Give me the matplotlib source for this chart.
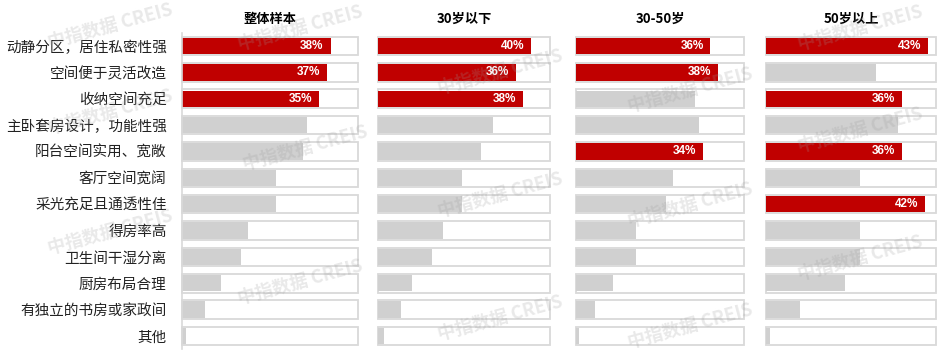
import matplotlib
matplotlib.use("Agg")
import matplotlib.pyplot as plt
import numpy as np

plt.rcParams['font.family'] = ['Noto Sans CJK SC', 'DejaVu Sans']

categories = ['动静分区，居住私密性强', '空间便于灵活改造', '收纳空间充足', '主卧套房设计，功能性强',
              '阳台空间实用、宽敞', '客厅空间宽阔', '采光充足且通透性佳', '得房率高',
              '卫生间干湿分离', '厨房布局合理', '有独立的书房或家政间', '其他']
groups = ['整体样本', '30岁以下', '30-50岁', '50岁以上']
overall = [38, 37, 35, 32, 31, 24, 24, 17, 15, 10, 6, 1]
under30 = [40, 36, 38, 30, 27, 22, 22, 17, 14, 9, 6, 1.5]
age30_50 = [36, 38, 32, 33, 34, 26, 24, 16, 16, 10, 5, 0.8]
over50 = [43, 29, 36, 35, 36, 25, 42, 25, 25, 21, 9, 1]
series = [overall, under30, age30_50, over50]

RED = '#c00000'
GREY = '#d0d0d0'
EDGE = '#d9d9d9'
BOX_MAX = 45

W, H = 946, 355
# panel left edge / width in pixels
panels = [(182, 176), (378, 172), (576, 168), (766, 170)]


def draw_panel(ax, vals, title, first):
    y = np.arange(len(categories))
    top3 = sorted(vals, reverse=True)[2]
    ax.barh(y, [BOX_MAX] * len(y), height=0.7, color='white', edgecolor=EDGE,
            linewidth=1.3, clip_on=False, zorder=1)
    colors = [RED if v >= top3 else GREY for v in vals]
    ax.barh(y, vals, height=0.62, color=colors, zorder=2)
    for yi, v, c in zip(y, vals, colors):
        if c == RED:
            ax.text(v - 1.8, yi, f'{v:.0f}%', color='white', fontsize=8.5,
                    fontweight='bold', ha='right', va='center',
                    family=['Liberation Sans', 'DejaVu Sans'], zorder=3)
    ax.set_xlim(0, BOX_MAX)
    ax.set_ylim(len(y) - 0.5, -0.5)
    ax.set_xticks([])
    for s in ['top', 'right', 'bottom']:
        ax.spines[s].set_visible(False)
    if first:
        ax.spines['left'].set_color(EDGE)
        ax.spines['left'].set_linewidth(1.2)
        ax.set_yticks(y)
        ax.set_yticklabels(categories, fontsize=10.5, color='#222222')
        ax.tick_params(axis='y', length=0, pad=11)
    else:
        ax.spines['left'].set_visible(False)
        ax.set_yticks([])
    ax.set_title(title, fontsize=9.5, fontweight='bold', pad=7)


def main():
    fig = plt.figure(figsize=(W / 100, H / 100), dpi=100)
    bottom = (H - 349.2) / H
    height = 316.4 / H
    for i, ((x0, w), vals, title) in enumerate(zip(panels, series, groups)):
        ax = fig.add_axes([x0 / W, bottom, w / W, height])
        draw_panel(ax, vals, title, i == 0)

    # faint watermark
    marks = [(110, 26), (300, 28), (500, 72), (110, 112), (305, 148), (690, 90),
             (860, 130), (860, 28), (500, 195), (110, 232), (300, 282),
             (690, 205), (860, 258), (500, 318), (690, 326)]
    for mx, my in marks:
        fig.text(mx / W, 1 - my / H, '中指数据 CREIS', fontsize=13, fontweight='bold',
                 color='#9a9a9a', alpha=0.22, rotation=15, ha='center', va='center',
                 zorder=10)

    fig.savefig('out.png', dpi=100)


if __name__ == '__main__':
    main()
